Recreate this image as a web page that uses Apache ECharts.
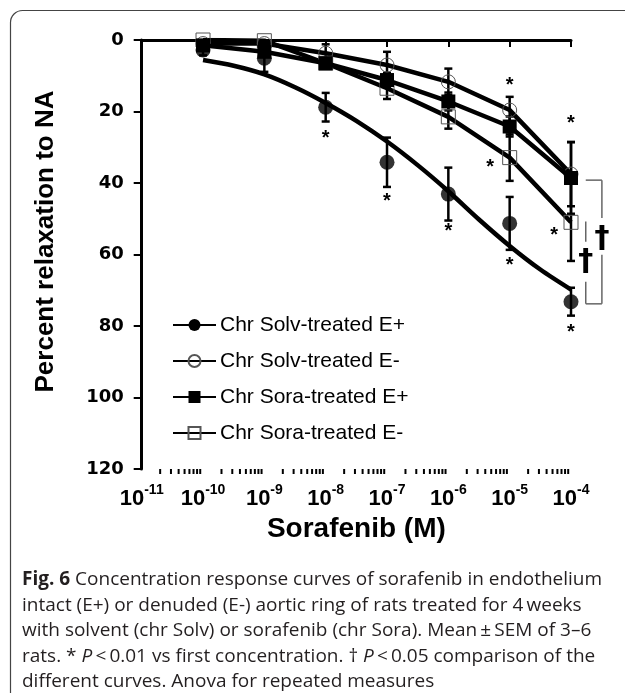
<!DOCTYPE html>
<html><head><meta charset="utf-8">
<script src="https://cdn.jsdelivr.net/npm/echarts@6/dist/echarts.min.js"></script>
<style>html,body{margin:0;padding:0;background:#fff;} #c{width:625px;height:693px;}</style>
</head><body><div id="c"></div>
<script>
// ---- data ----
const concentrations = [1e-10, 1e-9, 1e-8, 1e-7, 1e-6, 1e-5, 1e-4];
const seriesNames = ['Chr Solv-treated E+', 'Chr Solv-treated E-', 'Chr Sora-treated E+', 'Chr Sora-treated E-'];
const solvEplus    = [2.8, 5.1, 18.8, 34.2, 43.1, 51.3, 73.2];
const solvEplusErr = [1.5, 3.8, 4.0, 6.9, 7.4, 7.4, 3.9];
const solvEplusFitX = [1e-10, 3.16e-10, 1e-9, 3.16e-9, 1e-8, 3.16e-8, 1e-7, 3.16e-7, 1e-6, 3.16e-6, 1e-5, 3.16e-5, 1e-4];
const solvEplusFitY = [5.6, 7.2, 9.6, 13.2, 17.6, 22.6, 28.4, 35.0, 42.3, 50.2, 57.6, 64.2, 69.8];
const solvEminus    = [1.0, 1.0, 3.7, 7.0, 11.7, 19.6, 37.5];
const solvEminusErr = [0, 0, 2.5, 3.7, 3.7, 3.7, 9.0];
const soraEplus     = [1.5, 3.3, 6.5, 11.2, 17.2, 24.2, 38.6];
const soraEplusErr  = [0, 0, 1.5, 2.0, 2.5, 2.8, 10.0];
const soraEminus    = [0, 0.2, 6.5, 13.5, 21.5, 32.9, 51.0];
const soraEminusErr = [0, 0, 1.0, 3.0, 3.3, 6.5, 10.8];
const xTickExponents = [-11, -10, -9, -8, -7, -6, -5, -4];
const yTicks = [0, 20, 40, 60, 80, 100, 120];
const asteriskX = [1e-8, 1e-7, 1e-6, 1e-5, 1e-4, 1e-5, 1e-4, 4.8e-6, 5.3e-5];
const asteriskY = [26.2, 43.9, 52.3, 61.7, 80.4, 11.2, 22.0, 34.3, 53.3];
const daggerX = [3.19e-4, 1.74e-4];
const daggerY = [55.4, 62.0];
// bracket segments: [x1, y1, x2, y2]
const bracketSegments = [
  [1.74e-4, 39.2, 3.19e-4, 39.2], [3.19e-4, 39.2, 3.19e-4, 49.8],
  [3.19e-4, 60.1, 3.19e-4, 73.8], [3.19e-4, 73.8, 1.74e-4, 73.8], [1.74e-4, 73.8, 1.74e-4, 67.6],
  [1.74e-4, 50.8, 1.74e-4, 56.4]
];
const captionLines = [
  '{b|Fig. 6} Concentration response curves of sorafenib in endothelium',
  'intact (E+) or denuded (E-) aortic ring of rats treated for 4\u2009weeks',
  'with solvent (chr Solv) or sorafenib (chr Sora). Mean\u2009±\u2009SEM of 3–6',
  'rats. * {i|P}\u2009<\u20090.01 vs first concentration. † {i|P}\u2009<\u20090.05 comparison of the',
  'different curves. Anova for repeated measures'
];

// ---- build ----
const FONT = 'Liberation Sans, Arial, sans-serif';
const CAP = 'Open Sans, sans-serif';
const zip = (xs, ys) => xs.map((x, i) => [x, ys[i]]);
const zip3 = (xs, ys, es) => xs.map((x, i) => [x, ys[i], es[i]]);

const minorTicks = [];
for (let d = -11; d < -4; d++) for (let k = 2; k <= 9; k++) minorTicks.push([k * Math.pow(10, d), 120]);

function errRender(params, api) {
  const x = api.value(0), y = api.value(1), e = api.value(2);
  if (!e) return null;
  const t = api.coord([x, y - e]), b = api.coord([x, y + e]);
  const w = 4, st = {stroke: '#000', lineWidth: 2.5};
  return {type: 'group', children: [
    {type: 'line', shape: {x1: t[0], y1: t[1], x2: b[0], y2: b[1]}, style: st},
    {type: 'line', shape: {x1: t[0] - w, y1: t[1], x2: t[0] + w, y2: t[1]}, style: st},
    {type: 'line', shape: {x1: b[0] - w, y1: b[1], x2: b[0] + w, y2: b[1]}, style: st}
  ]};
}
function minorRender(params, api) {
  const p = api.coord([api.value(0), api.value(1)]);
  return {type: 'line', shape: {x1: p[0], y1: p[1], x2: p[0], y2: p[1] + 5}, style: {stroke: '#000', lineWidth: 2}};
}
function segRender(params, api) {
  const a = api.coord([api.value(0), api.value(1)]), b = api.coord([api.value(2), api.value(3)]);
  return {type: 'line', shape: {x1: a[0], y1: a[1], x2: b[0], y2: b[1]}, style: {stroke: '#666', lineWidth: 1.5}};
}
function textRender(txt, size, dy, family) {
  return function (params, api) {
    const p = api.coord([api.value(0), api.value(1)]);
    return {type: 'text', x: p[0], y: p[1] + dy, style: {text: txt, fontSize: size, fontWeight: 'bold', fontFamily: family, fill: '#000', align: 'center', verticalAlign: 'middle'}};
  };
}
const openStyle = {color: 'rgba(255,255,255,0)', borderColor: '#555', borderWidth: 1};
const lineSt = {color: '#000', width: 4.5};

const option = {
  animation: false,
  backgroundColor: '#fff',
  grid: {left: 141.7, top: 40, right: 54, bottom: 224},
  xAxis: {
    type: 'log', logBase: 10, min: 1e-11, max: 1e-4,
    name: 'Sorafenib (M)', nameLocation: 'middle', nameGap: 43,
    nameTextStyle: {fontSize: 28, fontWeight: 'bold', fontFamily: FONT, color: '#000'},
    axisLine: {lineStyle: {color: '#000', width: 3}},
    axisTick: {length: 7, lineStyle: {color: '#000', width: 2}},
    splitLine: {show: false},
    axisLabel: {
      margin: 14,
      formatter: v => {
        const e = Math.round(Math.log10(v));
        return xTickExponents.indexOf(e) >= 0 ? '{b|10}{s|' + e + '}' : '';
      },
      rich: {
        b: {fontSize: 22, fontWeight: 'bold', fontFamily: FONT, color: '#000', lineHeight: 27, verticalAlign: 'bottom'},
        s: {fontSize: 14, fontWeight: 'bold', fontFamily: FONT, color: '#000', lineHeight: 14, verticalAlign: 'top'}
      }
    }
  },
  yAxis: {
    type: 'value', inverse: true, min: yTicks[0], max: yTicks[yTicks.length - 1], interval: 20,
    name: 'Percent relaxation to NA', nameLocation: 'middle', nameGap: 83, nameRotate: 90,
    nameTextStyle: {fontSize: 26, fontWeight: 'bold', fontFamily: FONT, color: '#000', padding: [0, 0, 0, 26]},
    axisLine: {show: true, lineStyle: {color: '#000', width: 3}},
    axisTick: {show: true, length: 8, lineStyle: {color: '#000', width: 2}},
    splitLine: {show: false},
    axisLabel: {margin: 18, fontSize: 18, fontWeight: 'bold', fontFamily: 'DejaVu Sans, sans-serif', color: '#000'}
  },
  legend: {
    data: seriesNames, orient: 'vertical', left: 172, top: 314, padding: 0, itemWidth: 43, itemHeight: 15, itemGap: 14,
    textStyle: {fontSize: 21, fontFamily: FONT, color: '#000', lineHeight: 22, padding: [0, 0, 0, -1]}
  },
  series: [
    {type: 'custom', renderItem: segRender, data: bracketSegments, clip: false, silent: true, z: 1},
    {type: 'custom', renderItem: minorRender, data: minorTicks, clip: false, silent: true, z: 3},
    {type: 'custom', renderItem: errRender, data: zip3(concentrations, solvEplus, solvEplusErr), z: 2, silent: true},
    {type: 'custom', renderItem: errRender, data: zip3(concentrations, solvEminus, solvEminusErr), z: 2, silent: true},
    {type: 'custom', renderItem: errRender, data: zip3(concentrations, soraEplus, soraEplusErr), z: 2, silent: true},
    {type: 'custom', renderItem: errRender, data: zip3(concentrations, soraEminus, soraEminusErr), z: 2, silent: true},
    {name: seriesNames[0], type: 'line', smooth: 0.3, data: zip(solvEplusFitX, solvEplusFitY),
      symbol: 'circle', symbolSize: 15, showSymbol: false, lineStyle: lineSt, itemStyle: {color: '#000'}, z: 3},
    {type: 'scatter', data: zip(concentrations, solvEplus), symbol: 'circle', symbolSize: 15, itemStyle: {color: '#000'}, z: 6},
    {name: seriesNames[1], type: 'line', data: zip(concentrations, solvEminus), symbol: 'circle', symbolSize: 14,
      showAllSymbol: true, lineStyle: lineSt, itemStyle: openStyle, z: 4},
    {name: seriesNames[2], type: 'line', data: zip(concentrations, soraEplus), symbol: 'rect', symbolSize: 14,
      showAllSymbol: true, lineStyle: lineSt, itemStyle: {color: '#000'}, z: 5},
    {name: seriesNames[3], type: 'line', data: zip(concentrations, soraEminus), symbol: 'rect', symbolSize: 14,
      showAllSymbol: true, lineStyle: lineSt, itemStyle: openStyle, z: 4},
    {type: 'custom', renderItem: textRender('*', 20, 5, FONT), data: zip(asteriskX, asteriskY), clip: false, silent: true, z: 7},
    {type: 'custom', renderItem: textRender('†', 30, 1, 'DejaVu Sans, sans-serif'), data: zip(daggerX, daggerY), clip: false, silent: true, z: 7}
  ],
  graphic: [
    {type: 'rect', shape: {x: 10.5, y: 10.5, width: 700, height: 760, r: 12}, style: {fill: 'none', stroke: '#444', lineWidth: 1.2}, z: -1},
  ].concat(captionLines.map((t, i) => ({
    type: 'text', left: 22, top: 570 + i * 25.6,
    style: {
      text: t, fontSize: 19, fontFamily: CAP, fill: '#231f20',
      rich: {
        b: {fontSize: 19, fontFamily: CAP, fontWeight: 'bold', fill: '#231f20'},
        i: {fontSize: 19, fontFamily: CAP, fontStyle: 'italic', fill: '#231f20'}
      }
    }
  })))
};
const chart = echarts.init(document.getElementById('c'), null, {renderer: 'canvas'});
chart.setOption(option);
</script></body></html>
